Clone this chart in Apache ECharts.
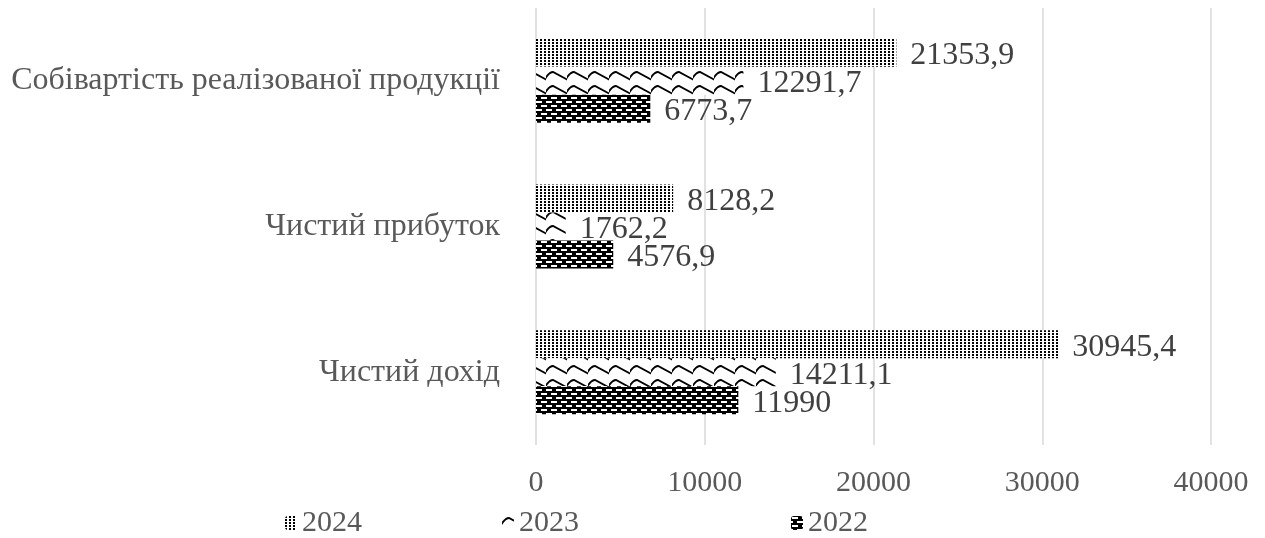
<!DOCTYPE html>
<html>
<head>
<meta charset="utf-8">
<script src="https://cdn.jsdelivr.net/npm/echarts@6/dist/echarts.min.js"></script>
<style>
  html, body { margin: 0; padding: 0; background: #fff; }
  #chart { width: 1265px; height: 538px; }
</style>
</head>
<body>
<div id="chart"></div>
<script>
// категорії (знизу вгору, як у вісі ECharts)
const categories = ['Чистий дохід', 'Чистий прибуток', 'Собівартість реалізованої продукції'];
const years = ['2024', '2023', '2022'];
const values2022 = [11990, 4576.9, 6773.7];
const values2023 = [14211.1, 1762.2, 12291.7];
const values2024 = [30945.4, 8128.2, 21353.9];
const xTicks = [0, 10000, 20000, 30000, 40000];

const FONT = '"Liberation Serif", "Times New Roman", serif';

// візерунки заливки
function makeTile(w, h, draw) {
  const c = document.createElement('canvas');
  c.width = w; c.height = h;
  const ctx = c.getContext('2d');
  draw(ctx);
  return { image: c, repeat: 'repeat' };
}

// 2024 - дрібні крапки
const dots = makeTile(4, 3, ctx => {
  ctx.fillStyle = '#fff'; ctx.fillRect(0, 0, 4, 3);
  ctx.fillStyle = '#000';
  ctx.fillRect(0, 0, 2, 2);
});

// 2023 - хвилі
const waves = makeTile(21, 14, ctx => {
  ctx.fillStyle = '#fff'; ctx.fillRect(0, 0, 21, 14);
  ctx.strokeStyle = '#000'; ctx.lineWidth = 1.8;
  ctx.beginPath();
  ctx.moveTo(-1, 9);
  ctx.quadraticCurveTo(3, 2, 7, 2);
  ctx.lineTo(22, 10);
  ctx.stroke();
});

// 2022 - чорне з білими рисками
const bricks = makeTile(10, 8, ctx => {
  ctx.fillStyle = '#000'; ctx.fillRect(0, 0, 10, 8);
  ctx.fillStyle = '#fff';
  ctx.fillRect(1, 1, 6, 2);
  ctx.fillRect(6, 5, 4, 2);
  ctx.fillRect(0, 5, 2, 2);
});

const patterns = { '2022': bricks, '2023': waves, '2024': dots };
const seriesValues = { '2022': values2022, '2023': values2023, '2024': values2024 };

const chart = echarts.init(document.getElementById('chart'));

const labelFmt = p => String(p.value).replace('.', ',');

const legendBase = {
  top: 503,
  itemWidth: 12,
  itemHeight: 14,
  textStyle: { fontFamily: FONT, fontSize: 30, color: '#595959' }
};

chart.setOption({
  animation: false,
  grid: { left: 536, right: 54, top: 8, bottom: 93 },
  legend: [
    Object.assign({ left: 280, data: ['2024'] }, legendBase),
    Object.assign({ left: 497, data: ['2023'] }, legendBase),
    Object.assign({ left: 786, data: ['2022'] }, legendBase)
  ],
  xAxis: {
    type: 'value',
    min: xTicks[0],
    max: xTicks[xTicks.length - 1],
    interval: 10000,
    axisLine: { show: false },
    axisTick: { show: false },
    axisLabel: {
      formatter: v => String(v),
      fontFamily: FONT, fontSize: 30, color: '#595959', margin: 23
    },
    splitLine: { lineStyle: { color: '#d9d9d9', width: 1.5 } }
  },
  yAxis: {
    type: 'category',
    data: categories,
    axisLine: { show: false },
    axisTick: { show: false },
    axisLabel: { fontFamily: FONT, fontSize: 32, color: '#595959', margin: 36 }
  },
  series: years.map(y => ({
    name: y,
    type: 'bar',
    data: seriesValues[y],
    barWidth: 28,
    barGap: '0%',
    itemStyle: { color: patterns[y] },
    label: {
      show: true,
      position: 'right',
      distance: 14,
      offset: [0, 3],
      formatter: labelFmt,
      fontFamily: FONT,
      fontSize: 32,
      color: '#404040'
    }
  }))
});
</script>
</body>
</html>
